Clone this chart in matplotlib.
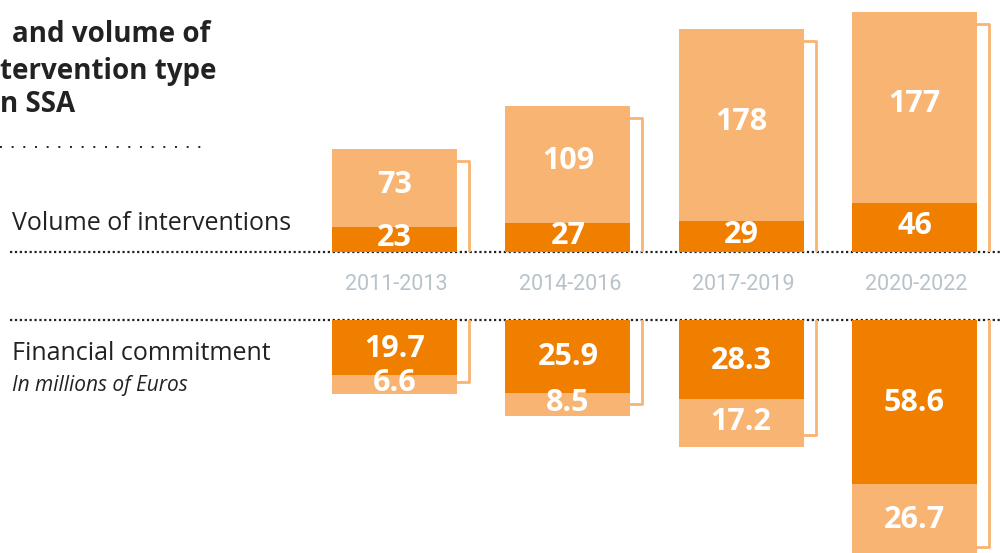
import matplotlib
matplotlib.use("Agg")
import matplotlib.pyplot as plt

# data
periods = ["2011-2013", "2014-2016", "2017-2019", "2020-2022"]
vol_dark = [23, 27, 29, 46]
vol_light = [73, 109, 178, 177]
fin_dark = [19.7, 25.9, 28.3, 58.6]
fin_light = [6.6, 8.5, 17.2, 26.7]

light = "#F8B472"
dark = "#F07F00"
W, H = 1004, 553

plt.rcParams['font.family'] = ['Open Sans', 'DejaVu Sans']

fig = plt.figure(figsize=(W / 100, H / 100), dpi=100)

# background axes in pixel coords for text and separators
ax0 = fig.add_axes([0, 0, 1, 1])
ax0.set_xlim(0, W)
ax0.set_ylim(H, 0)
ax0.axis("off")

# bar geometry (pixels)
first_center = 394.5
step = 173.33
bar_px = 125
base_top = 252
base_bot = 320
scale_top = 1.075
scale_bot = 2.8
xlim = (-first_center / step, (W - first_center) / step)
width = bar_px / step
dx = 12 / step

ax_top = fig.add_axes([0, (H - base_top) / H, 1, base_top / H])
ax_top.set_xlim(*xlim)
ax_top.set_ylim(0, base_top / scale_top)
ax_top.axis("off")

ax_bot = fig.add_axes([0, 0, 1, (H - base_bot) / H])
ax_bot.set_xlim(*xlim)
ax_bot.set_ylim((H - base_bot) / scale_bot, 0)
ax_bot.axis("off")

xs = list(range(len(periods)))
num_style = dict(ha="center", va="center", color="white", fontsize=22,
                 fontweight="bold", zorder=4)

# volume bars
ax_top.bar(xs, vol_dark, width=width, color=dark, zorder=3)
ax_top.bar(xs, vol_light, width=width, bottom=vol_dark, color=light, zorder=3)
off_top = 12 / scale_top
for x, d, l in zip(xs, vol_dark, vol_light):
    t = d + l - off_top
    xr = x + width / 2
    ax_top.plot([xr, xr + dx, xr + dx], [t, t, 0], color=light, lw=2, zorder=2,
                solid_joinstyle="round")
    ax_top.text(x, d + l / 2 + 3, str(l), **num_style)
    ax_top.text(x, d / 2 + 1.5, str(d), **num_style)

# financial bars
ax_bot.bar(xs, fin_dark, width=width, color=dark, zorder=3)
ax_bot.bar(xs, fin_light, width=width, bottom=fin_dark, color=light, zorder=3)
off_bot = 12 / scale_bot
for x, d, l in zip(xs, fin_dark, fin_light):
    t = d + l - off_bot
    xr = x + width / 2
    ax_bot.plot([xr, xr + dx, xr + dx], [t, t, 0], color=light, lw=2, zorder=2,
                solid_joinstyle="round")
    ax_bot.text(x, d / 2 + 0.4, f"{d:.1f}", **num_style)
    ax_bot.text(x, d + l / 2 - 0.5, f"{l:.1f}", **num_style)

# period labels
for x, p in zip(xs, periods):
    px = first_center + x * step
    ax0.text(px + 2, 284, p, ha="center", va="center", color="#B7C3CB",
             fontsize=15.5, family=["Roboto", "DejaVu Sans"])

# dotted separators
ax0.plot([10, 1000], [base_top, base_top], color="#222222", lw=1.6,
         linestyle=(0, (1, 1.2)), zorder=5)
ax0.plot([10, 1000], [base_bot, base_bot], color="#222222", lw=1.6,
         linestyle=(0, (1, 1.2)), zorder=5)
ax0.plot([0, 205], [147, 147], color="#222222", lw=1.4,
         linestyle=(0, (1, 5)))

# title (cropped on the left in the reference)
title_style = dict(ha="left", va="center", fontsize=20, fontweight="bold",
                   color="#222222")
ax0.text(12, 35, "and volume of", **title_style)
ax0.text(0, 71, "tervention type", **title_style)
ax0.text(0, 104, "n SSA", **title_style)

ax0.text(12, 223, "Volume of interventions", ha="left", va="center", fontsize=18,
         color="#222222")
ax0.text(12, 353, "Financial commitment", ha="left", va="center", fontsize=18,
         color="#222222")
ax0.text(12, 386, "In millions of Euros", ha="left", va="center", fontsize=15,
         style="italic", color="#222222")

fig.savefig("out.png", dpi=100)
